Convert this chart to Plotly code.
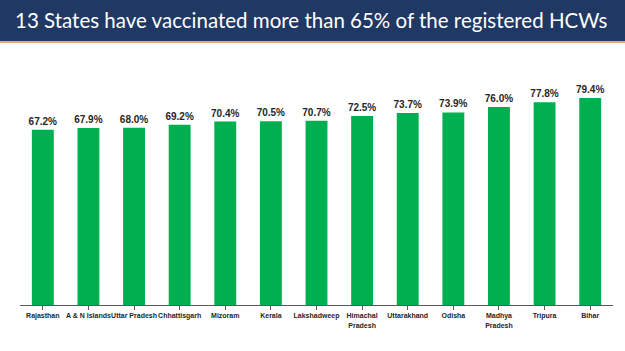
import plotly.graph_objects as go

states = ["Rajasthan", "A & N Islands", "Uttar Pradesh", "Chhattisgarh", "Mizoram", "Kerala",
          "Lakshadweep", "Himachal<br>Pradesh", "Uttarakhand", "Odisha", "Madhya<br>Pradesh",
          "Tripura", "Bihar"]
values = [67.2, 67.9, 68.0, 69.2, 70.4, 70.5, 70.7, 72.5, 73.7, 73.9, 76.0, 77.8, 79.4]
labels = [f"<b>{v:.1f}%</b>" for v in values]
ticklabels = [f"<b>{s}</b>" for s in states]
title = "13 States have vaccinated more than 65% of the registered HCWs"

fig = go.Figure(go.Bar(
    x=list(range(len(states))), y=values, text=labels, textposition="outside",
    constraintext="none",
    textfont=dict(size=10, color="#262626", family="Liberation Sans"),
    marker=dict(color="#00B050", line=dict(width=0)),
    width=0.48, cliponaxis=False,
))

fig.update_layout(
    width=625, height=351, margin=dict(l=20, r=12, t=60, b=46),
    paper_bgcolor="white", plot_bgcolor="white", showlegend=False,
    xaxis=dict(showline=True, linecolor="#595959", linewidth=1, ticks="outside",
               tickmode="array", tickvals=list(range(len(states))), ticktext=ticklabels,
               tickson="boundaries", ticklen=4, tickcolor="#595959",
               range=[-0.5, len(states) - 0.5],
               tickfont=dict(size=7, color="#262626", family="Liberation Sans"),
               tickangle=0, showgrid=False),
    yaxis=dict(range=[0, 94], visible=False, showgrid=False),
    shapes=[
        dict(type="rect", xref="paper", yref="paper", x0=-0.04, x1=1.03,
             y0=1 + (60 - 41) / 245, y1=1 + 60 / 245 + 0.01,
             fillcolor="#1F3864", line=dict(width=0), layer="below"),
        dict(type="line", xref="paper", yref="paper", x0=-0.04, x1=1.03,
             y0=1 + (60 - 42) / 245, y1=1 + (60 - 42) / 245,
             line=dict(color="#E0894F", width=1.5)),
    ],
    annotations=[dict(text=title, xref="paper", yref="paper", x=0.49, y=1 + (60 - 20) / 245,
                      xanchor="center", yanchor="middle", showarrow=False,
                      font=dict(size=20.5, color="white", family="Lato"))],
)

fig.write_html("out.html")
